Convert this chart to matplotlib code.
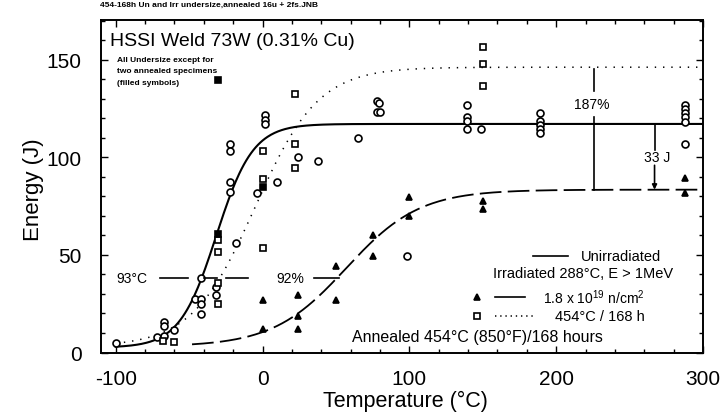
import numpy as np
import matplotlib.pyplot as plt
from matplotlib.ticker import MultipleLocator

plt.rcParams['font.family'] = ['Liberation Sans', 'DejaVu Sans']
plt.rcParams['mathtext.default'] = 'regular'
plt.rcParams['axes.unicode_minus'] = False

# Charpy data, temperature (C) and absorbed energy (J)
unirr_t = [-100, -72, -67, -67, -67, -60, -46, -42, -42, -42, -42, -32, -32,
           -22, -22, -22, -22, -18, -4, 2, 2, 2, 10, 24, 38, 65, 78, 79, 78, 80,
           139, 139, 139, 139, 149, 189, 189, 189, 189, 189,
           288, 288, 288, 288, 288, 288]
unirr_e = [4.9, 8.0, 15.6, 13.6, 8.6, 11.7, 27.4, 27.4, 24.9, 19.7, 38.1, 33.6, 29.6,
           106.9, 103.2, 87.3, 82.2, 56.0, 81.8, 121.8, 119.4, 117.2, 87.3, 100.1, 98.1,
           109.8, 129.1, 127.9, 123.2, 123.2,
           126.9, 120.6, 118.9, 114.6, 114.6, 122.8, 118.9, 116.7, 114.6, 112.6,
           126.9, 124.9, 122.8, 120.6, 118.1, 106.9]

irr_t = [0, 0, 24, 24, 24, 50, 50, 75, 75, 100, 100, 150, 150, 288, 288]
irr_e = [26.8, 11.8, 29.6, 18.9, 11.8, 44.4, 26.9, 60.2, 49.5, 79.6, 70.2,
         77.5, 73.4, 89.5, 81.8]

ann_t = [-68, -60, -30, -30, -30, -30, 0, 0, 0, 22, 22, 22, 150, 150, 150]
ann_e = [6.1, 5.6, 57.9, 51.7, 35.6, 24.9, 103.2, 89.1, 53.4, 132.6, 106.9, 94.8,
         156.8, 148.0, 136.8]

# full size annealed specimens
ann_full_t = [-30, 0]
ann_full_e = [60.8, 84.8]

# tanh fits: lower shelf, upper shelf, mid temperature, half width
fit_unirr = (2.5, 117.2, -31.5, 25.0)
fit_irr = (3.0, 83.5, 57.0, 50.0)
fit_ann = (3.0, 146.3, -5.0, 43.0)

# transition shift and upper shelf annotations
shift_level = 38
shift_t = -41
shift = 93
recov_t = 226
drop_t = 267


def tanh_fit(t, p):
    lo, up, t0, c = p
    return (up + lo) / 2 + (up - lo) / 2 * np.tanh((t - t0) / c)


fig = plt.figure(figsize=(7.23, 4.14), dpi=100)
ax = fig.add_axes([101 / 723, 1 - 353.5 / 414, 602 / 723, 332.5 / 414])

t = np.linspace(-100, 300, 500)
ax.plot(t, tanh_fit(t, fit_unirr), 'k-', lw=1.5)
ax.plot(t, tanh_fit(t, fit_ann), 'k', lw=1.1, dashes=(0.9, 4.5))
ti = np.linspace(-48, 300, 500)
ax.plot(ti, tanh_fit(ti, fit_irr), 'k', lw=1.3, dashes=(12, 3.5))

mk = dict(ls='none', mec='k', mew=1.2)
ax.plot(unirr_t, unirr_e, 'o', ms=5, mfc='white', **mk)
ax.plot(ann_t, ann_e, 's', ms=4.5, mfc='white', **mk)
ax.plot(ann_full_t, ann_full_e, 's', ms=4.5, mfc='k', **mk)
ax.plot(irr_t, irr_e, '^', ms=5, mfc='k', **mk)

# transition shift line
up_ann = fit_ann[1]
up_unirr = fit_unirr[1]
up_irr = fit_irr[1]
for a, b in [(-70, -51), (-40, -31), (-25, -10), (35, shift_t + shift)]:
    ax.plot([a, b], [shift_level, shift_level], 'k-', lw=1.2)
ax.text(-89, shift_level, '93°C', fontsize=10, ha='center', va='center')
ax.text(19, shift_level, '92%', fontsize=10, ha='center', va='center')

# upper shelf recovery
ax.plot([recov_t, recov_t], [up_ann - 1, 134], 'k-', lw=1.2)
ax.plot([recov_t, recov_t], [121, up_irr], 'k-', lw=1.2)
ax.text(recov_t - 2, 127.5, '187%', fontsize=10, ha='center', va='center')

ax.plot([drop_t, drop_t], [up_unirr, 104], 'k-', lw=1.2)
ax.annotate('', xy=(drop_t, up_irr), xytext=(drop_t, 96),
            arrowprops=dict(arrowstyle='-|>', color='k', lw=1.2,
                            mutation_scale=7, shrinkA=0, shrinkB=0))
ax.text(drop_t + 2, 100.3, '33 J', fontsize=10, ha='center', va='center')

# key
ax.plot([98.6], [49.6], 'o', ms=5, mfc='white', **mk)
ax.plot([184, 208], [49.6, 49.6], 'k-', lw=1.2)
ax.text(216.5, 49.6, 'Unirradiated', fontsize=10.5, va='center')
ax.text(157, 40.8, 'Irradiated 288°C, E > 1MeV', fontsize=10.5, va='center')
ax.plot([146], [28.6], '^', ms=5, mfc='k', **mk)
ax.plot([158, 178.5], [28.6, 28.6], 'k-', lw=1.2)
ax.text(191, 28.6, r'1.8 x 10$^{19}$ n/cm$^{2}$', fontsize=10, va='center')
ax.plot([146], [18.9], 's', ms=4.5, mfc='white', **mk)
ax.plot([158, 185], [18.9, 18.9], 'k', lw=1.1, dashes=(0.9, 2.5))
ax.text(199, 18.9, '454°C / 168 h', fontsize=10.5, va='center')
ax.text(61, 8, 'Annealed 454°C (850°F)/168 hours', fontsize=11.5, va='center')

ax.text(-104, 160, 'HSSI Weld 73W (0.31% Cu)', fontsize=14, va='center')
ax.text(-99, 150.5, 'All Undersize except for', fontsize=6, fontweight='bold', va='center')
ax.text(-99, 144.4, 'two annealed specimens', fontsize=6, fontweight='bold', va='center')
ax.text(-99, 138.2, '(filled symbols)', fontsize=6, fontweight='bold', va='center')
ax.plot([-30], [139.5], 's', ms=4, mfc='k', **mk)

ax.set_xlim(-110, 300)
ax.set_ylim(0, 170.5)
ax.xaxis.set_major_locator(MultipleLocator(100))
ax.xaxis.set_minor_locator(MultipleLocator(20))
ax.yaxis.set_major_locator(MultipleLocator(50))
ax.yaxis.set_minor_locator(MultipleLocator(10))
ax.tick_params(which='both', direction='in', top=True, right=True, width=1)
ax.tick_params(which='major', length=5, labelsize=15)
ax.tick_params(axis='x', which='major', pad=12)
ax.tick_params(axis='y', which='major', pad=14)
ax.tick_params(which='minor', length=3)
for s in ax.spines.values():
    s.set_linewidth(1.4)

fig.text(405 / 723, 1 - 401 / 414, 'Temperature (°C)', fontsize=15.5, ha='center', va='center')
fig.text(33 / 723, 1 - 190 / 414, 'Energy (J)', fontsize=16, rotation=90,
         ha='center', va='center')
fig.text(100 / 723, 1 - 5 / 414, '454-168h Un and Irr undersize,annealed 16u + 2fs.JNB',
         fontsize=6, fontweight='bold', va='center')

fig.savefig('out.png', dpi=100)
